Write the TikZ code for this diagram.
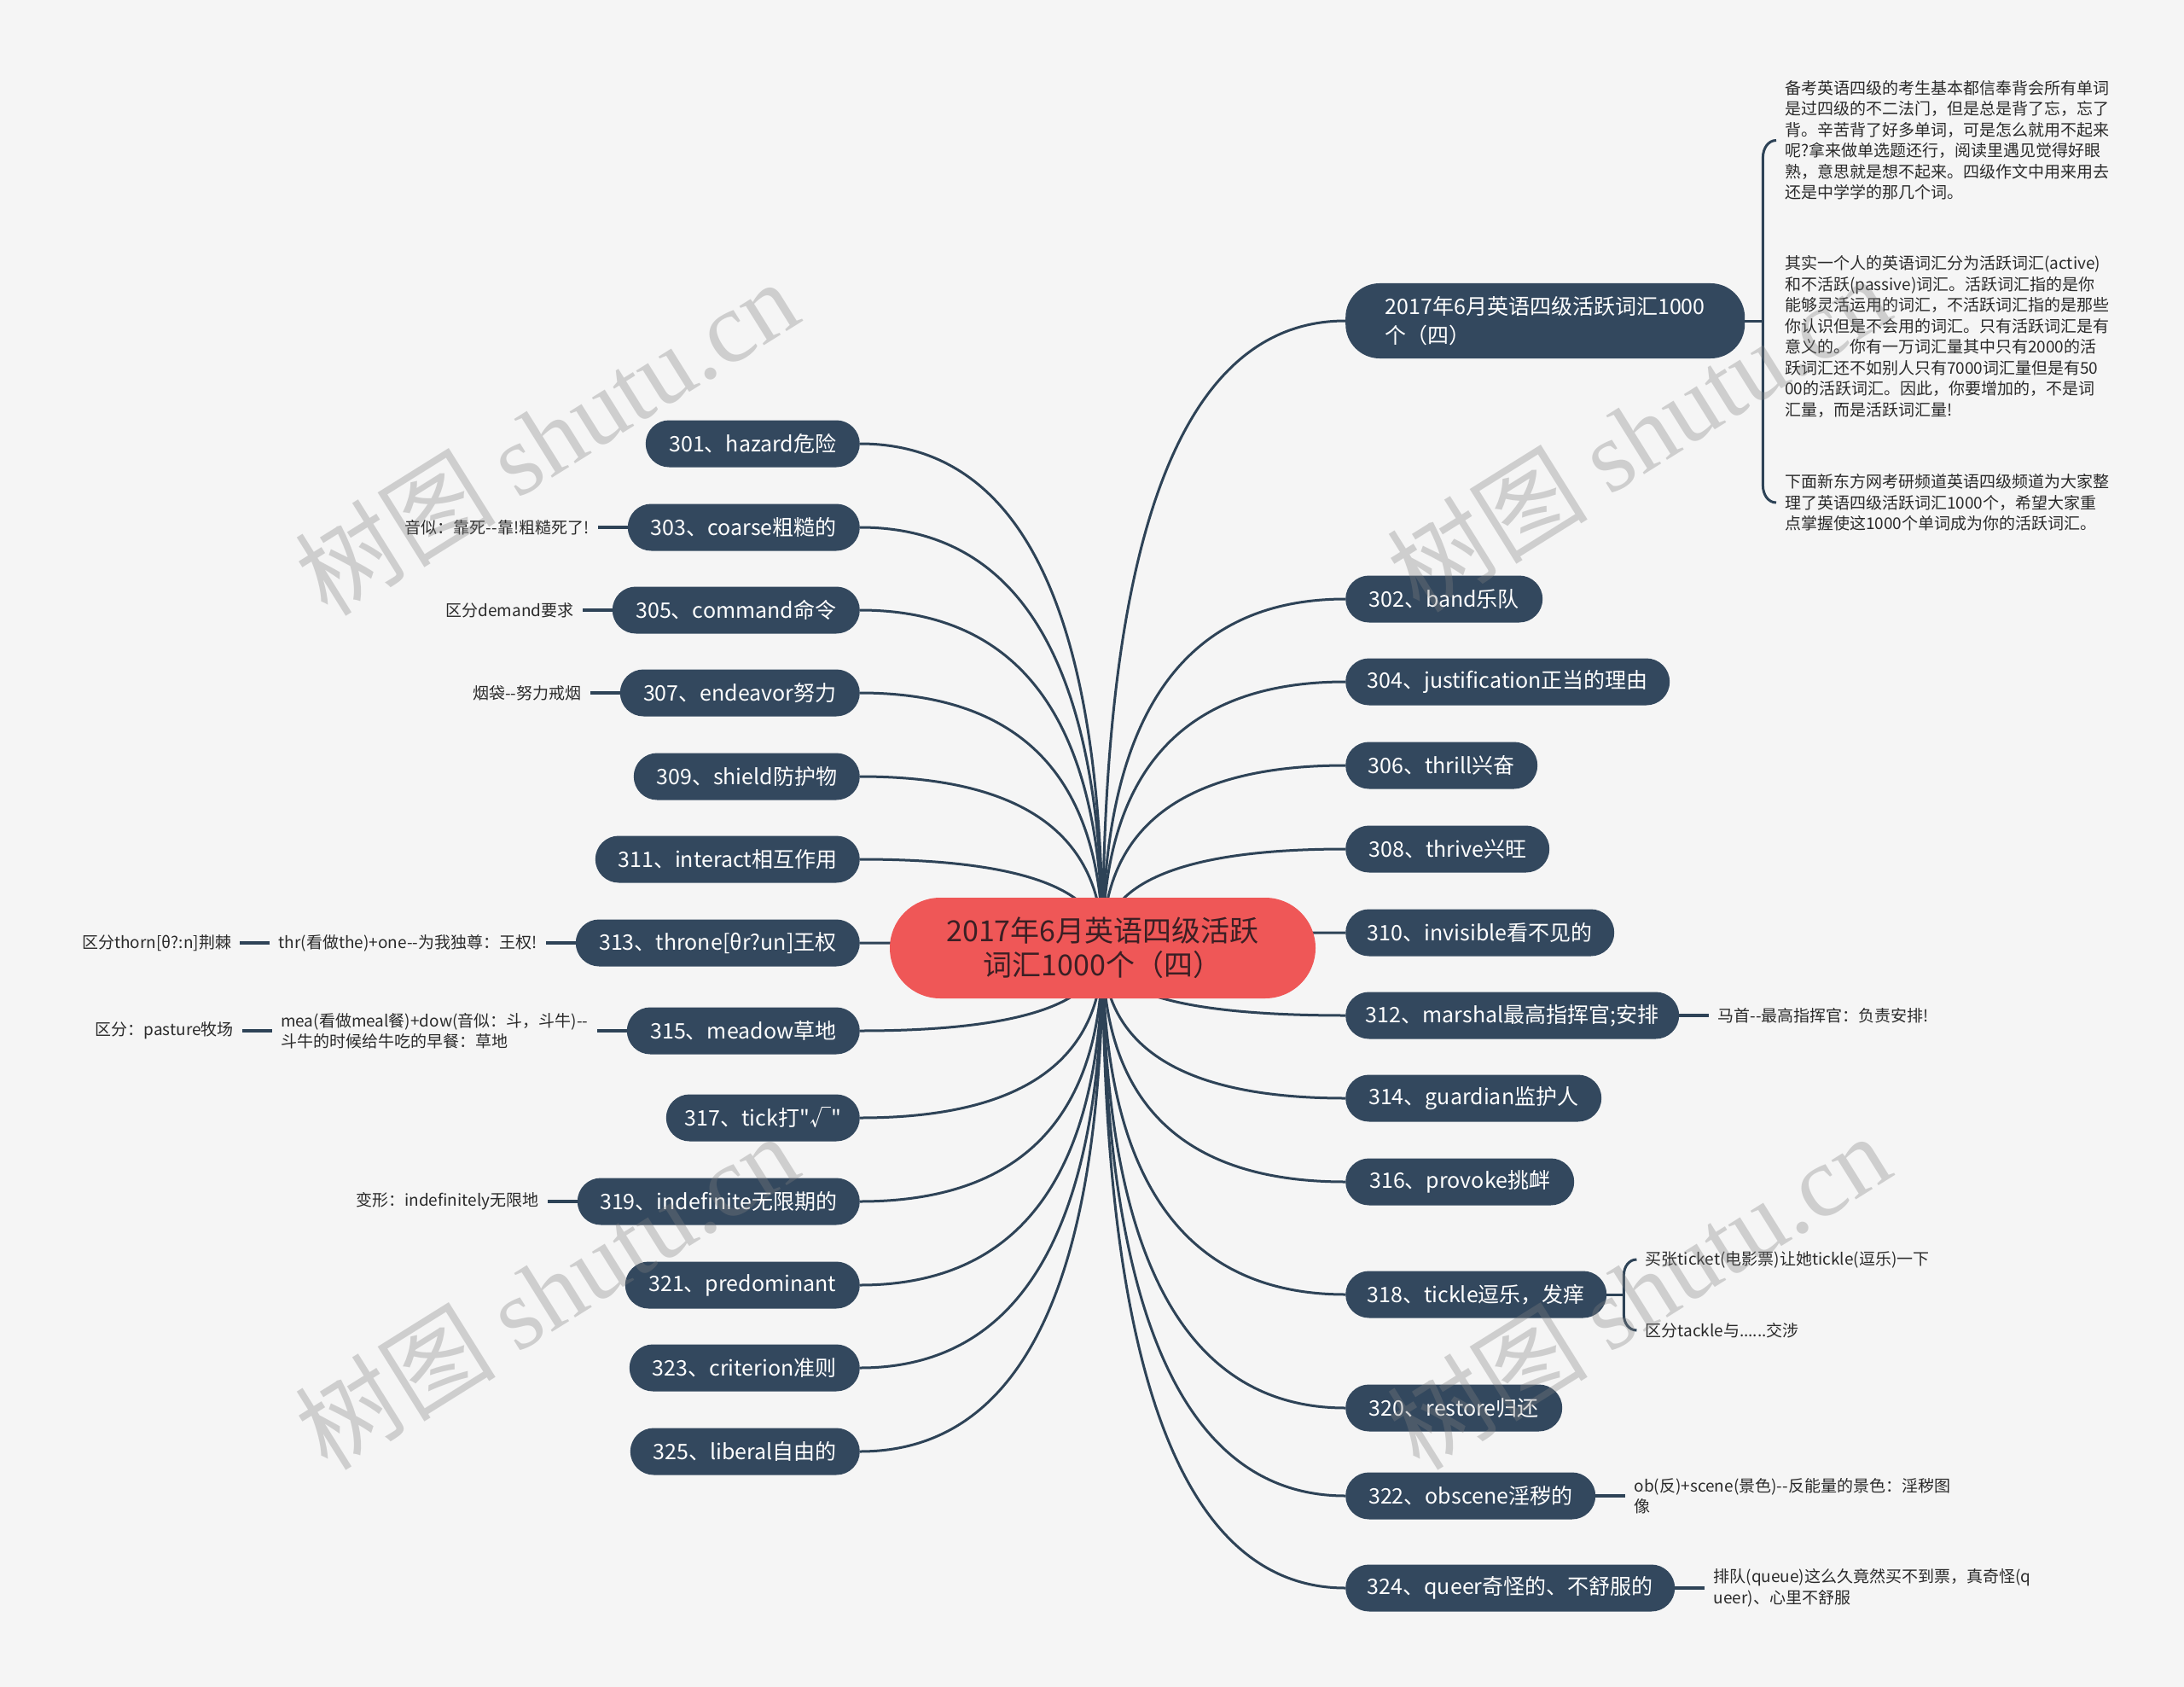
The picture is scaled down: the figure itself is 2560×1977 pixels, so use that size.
\documentclass[tikz,border=0pt]{standalone}
\usepackage{fontspec}
\setmainfont{Noto Sans CJK SC}[Ligatures=TeXOff]
\newfontfamily\wmserif{Liberation Serif}[Ligatures=TeXOff]
\usetikzlibrary{calc,backgrounds}
\definecolor{bgc}{HTML}{F5F5F5}
\definecolor{nodeblue}{HTML}{33485E}
\definecolor{lineblue}{HTML}{2E4357}
\definecolor{centerred}{HTML}{EF5757}
\definecolor{centertext}{HTML}{3B1F24}
\definecolor{anntext}{HTML}{2A2A2A}
\definecolor{wmgray}{HTML}{808080}
\newcommand\mmbranch[2]{%
  \draw[conn] (#1.center) .. controls ($(#1.center)!0.6667!(#1.center|-#2)$) and ($(#2)!0.6667!(#1.center|-#2)$) .. (#2);}
\begin{document}
\begin{tikzpicture}[x=1pt,y=-1pt,
  topic/.style={fill=nodeblue, text=white, rounded corners=27.5pt, minimum height=55pt, inner sep=0pt, font=\fontsize{25}{30}\selectfont},
  lt/.style={topic, anchor=east},
  rt/.style={topic, anchor=west},
  conn/.style={draw=lineblue, line width=3pt},
  sub/.style={draw=lineblue, line width=3.5pt},
  ann/.style={text=anntext, inner xsep=10pt, inner ysep=2pt, align=left, font=\fontsize{19}{24.5}\selectfont},
  wm/.style={text=wmgray, opacity=0.33, font=\fontsize{118}{118}\selectfont, rotate=32}]
\useasboundingbox (0,0) rectangle (2560,1977);

% central topic
\node[fill=centerred, text=centertext, rounded corners=59pt, minimum width=499pt, minimum height=118pt,
      inner sep=0pt, align=center, font=\fontsize{34}{40}\selectfont] (C) at (1292.5,1111)
      {2017年6月英语四级活跃\\词汇1000个（四）};

% left topics
\node[lt, minimum width=251pt] (n301) at (1008,520) {301、hazard危险};
\node[lt, minimum width=272pt] (n303) at (1008,618) {303、coarse粗糙的};
\node[lt, minimum width=290pt] (n305) at (1008,715) {305、command命令};
\node[lt, minimum width=281pt] (n307) at (1008,812) {307、endeavor努力};
\node[lt, minimum width=265pt] (n309) at (1008,910) {309、shield防护物};
\node[lt, minimum width=310pt] (n311) at (1008,1007) {311、interact相互作用};
\node[lt, minimum width=333pt] (n313) at (1008,1105) {313、throne[θr?un]王权};
\node[lt, minimum width=273pt] (n315) at (1008,1208) {315、meadow草地};
\node[lt, minimum width=227pt] (n317) at (1008,1310) {317、tick打"√"};
\node[lt, minimum width=331pt] (n319) at (1008,1408) {319、indefinite无限期的};
\node[lt, minimum width=275pt] (n321) at (1008,1506) {321、predominant};
\node[lt, minimum width=270pt] (n323) at (1008,1603) {323、criterion准则};
\node[lt, minimum width=269pt] (n325) at (1008,1701) {325、liberal自由的};

% right topics
\node[rt, minimum width=468pt, minimum height=88pt, rounded corners=40pt, align=left,
      font=\fontsize{25}{34}\selectfont] (nT) at (1577,376) {2017年6月英语四级活跃词汇1000\\个（四）};
\node[rt, minimum width=231pt] (n302) at (1577,702) {302、band乐队};
\node[rt, minimum width=380pt] (n304) at (1577,799) {304、justification正当的理由};
\node[rt, minimum width=225pt] (n306) at (1577,897) {306、thrill兴奋};
\node[rt, minimum width=239pt] (n308) at (1577,995) {308、thrive兴旺};
\node[rt, minimum width=315pt] (n310) at (1577,1093) {310、invisible看不见的};
\node[rt, minimum width=391pt] (n312) at (1577,1190) {312、marshal最高指挥官;安排};
\node[rt, minimum width=300pt] (n314) at (1577,1287) {314、guardian监护人};
\node[rt, minimum width=268pt] (n316) at (1577,1385) {316、provoke挑衅};
\node[rt, minimum width=306pt] (n318) at (1577,1517) {318、tickle逗乐，发痒};
\node[rt, minimum width=254pt] (n320) at (1577,1650) {320、restore归还};
\node[rt, minimum width=293pt] (n322) at (1577,1753) {322、obscene淫秽的};
\node[rt, minimum width=386pt] (n324) at (1577,1861) {324、queer奇怪的、不舒服的};

% left annotations
\node[ann, anchor=east] (a303) at ($(n303.west)+(-35,0)$) {音似：靠死--靠!粗糙死了!};
\node[ann, anchor=east] (a305) at ($(n305.west)+(-35,0)$) {区分demand要求};
\node[ann, anchor=east] (a307) at ($(n307.west)+(-35,0)$) {烟袋--努力戒烟};
\node[ann, anchor=east] (a313) at ($(n313.west)+(-35,0)$) {thr(看做the)+one--为我独尊：王权!};
\node[ann, anchor=east] (b313) at ($(a313.west)+(-35,0)$) {区分thorn[θ?:n]荆棘};
\node[ann, anchor=east] (a315) at ($(n315.west)+(-35,0)$) {mea(看做meal餐)+dow(音似：斗，斗牛)--\\斗牛的时候给牛吃的早餐：草地};
\node[ann, anchor=east] (b315) at ($(a315.west)+(-35,0)$) {区分：pasture牧场};
\node[ann, anchor=east] (a319) at ($(n319.west)+(-35,0)$) {变形：indefinitely无限地};

% right annotations
\node[ann, anchor=west] (a312) at ($(n312.east)+(35,0)$) {马首--最高指挥官：负责安排!};
\coordinate (k318) at ($(n318.east)+(20,0)$);
\node[ann, anchor=west] (t318a) at ($(k318)+(15,-41)$) {买张ticket(电影票)让她tickle(逗乐)一下};
\node[ann, anchor=west] (t318b) at ($(k318)+(15,42)$) {区分tackle与......交涉};
\node[ann, anchor=west] (a322) at ($(n322.east)+(35,0)$) {ob(反)+scene(景色)--反能量的景色：淫秽图\\像};
\node[ann, anchor=west] (a324) at ($(n324.east)+(35,0)$) {排队(queue)这么久竟然买不到票，真奇怪(q\\ueer)、心里不舒服};

% paragraphs of the first right topic
\coordinate (k0) at ($(nT.east)+(21,0)$);
\node[ann, anchor=west] (p1) at (2082,164.5) {备考英语四级的考生基本都信奉背会所有单词\\是过四级的不二法门，但是总是背了忘，忘了\\背。辛苦背了好多单词，可是怎么就用不起来\\呢?拿来做单选题还行，阅读里遇见觉得好眼\\熟，意思就是想不起来。四级作文中用来用去\\还是中学学的那几个词。};
\node[ann, anchor=west] (p2) at (2082,394.5) {其实一个人的英语词汇分为活跃词汇(active)\\和不活跃(passive)词汇。活跃词汇指的是你\\能够灵活运用的词汇，不活跃词汇指的是那些\\你认识但是不会用的词汇。只有活跃词汇是有\\意义的。你有一万词汇量其中只有2000的活\\跃词汇还不如别人只有7000词汇量但是有50\\00的活跃词汇。因此，你要增加的，不是词\\汇量，而是活跃词汇量!};
\node[ann, anchor=west] (p3) at (2082,589) {下面新东方网考研频道英语四级频道为大家整\\理了英语四级活跃词汇1000个，希望大家重\\点掌握使这1000个单词成为你的活跃词汇。};

\begin{scope}[on background layer]
\fill[bgc] (0,0) rectangle (2560,1977);
\foreach \n in {301,303,...,325} {\mmbranch{C}{n\n.east}}
\foreach \n in {302,304,...,324} {\mmbranch{C}{n\n.west}}
\mmbranch{C}{nT.west}
\draw[sub] (n303.west) -- (a303.east);
\draw[sub] (n305.west) -- (a305.east);
\draw[sub] (n307.west) -- (a307.east);
\draw[sub] (n313.west) -- (a313.east);
\draw[sub] (a313.west) -- (b313.east);
\draw[sub] (n315.west) -- (a315.east);
\draw[sub] (a315.west) -- (b315.east);
\draw[sub] (n319.west) -- (a319.east);
\draw[sub] (n312.east) -- (a312.west);
\draw[sub] (n322.east) -- (a322.west);
\draw[sub] (n324.east) -- (a324.west);
\draw[conn] (n318.east) -- (k318);
\draw[conn] (t318a.west) to[out=180,in=90] ($(k318|-t318a.west)+(0,18)$) -- ($(k318|-t318b.west)+(0,-18)$) to[out=-90,in=180] (t318b.west);
\draw[conn] (nT.east) -- (k0);
\draw[conn] (p1.west) to[out=180,in=90] ($(k0|-p1.west)+(0,20)$) -- ($(k0|-p3.west)+(0,-20)$) to[out=-90,in=180] (p3.west);
\end{scope}

% watermarks
\node[wm] (w1) at (640,512) {树图 {\wmserif shutu.cn}};
\node[wm] (w2) at (1920,508) {树图 {\wmserif shutu.cn}};
\node[wm] (w3) at (640,1513) {树图 {\wmserif shutu.cn}};
\node[wm] (w4) at (1920,1513) {树图 {\wmserif shutu.cn}};
\end{tikzpicture}
\end{document}
